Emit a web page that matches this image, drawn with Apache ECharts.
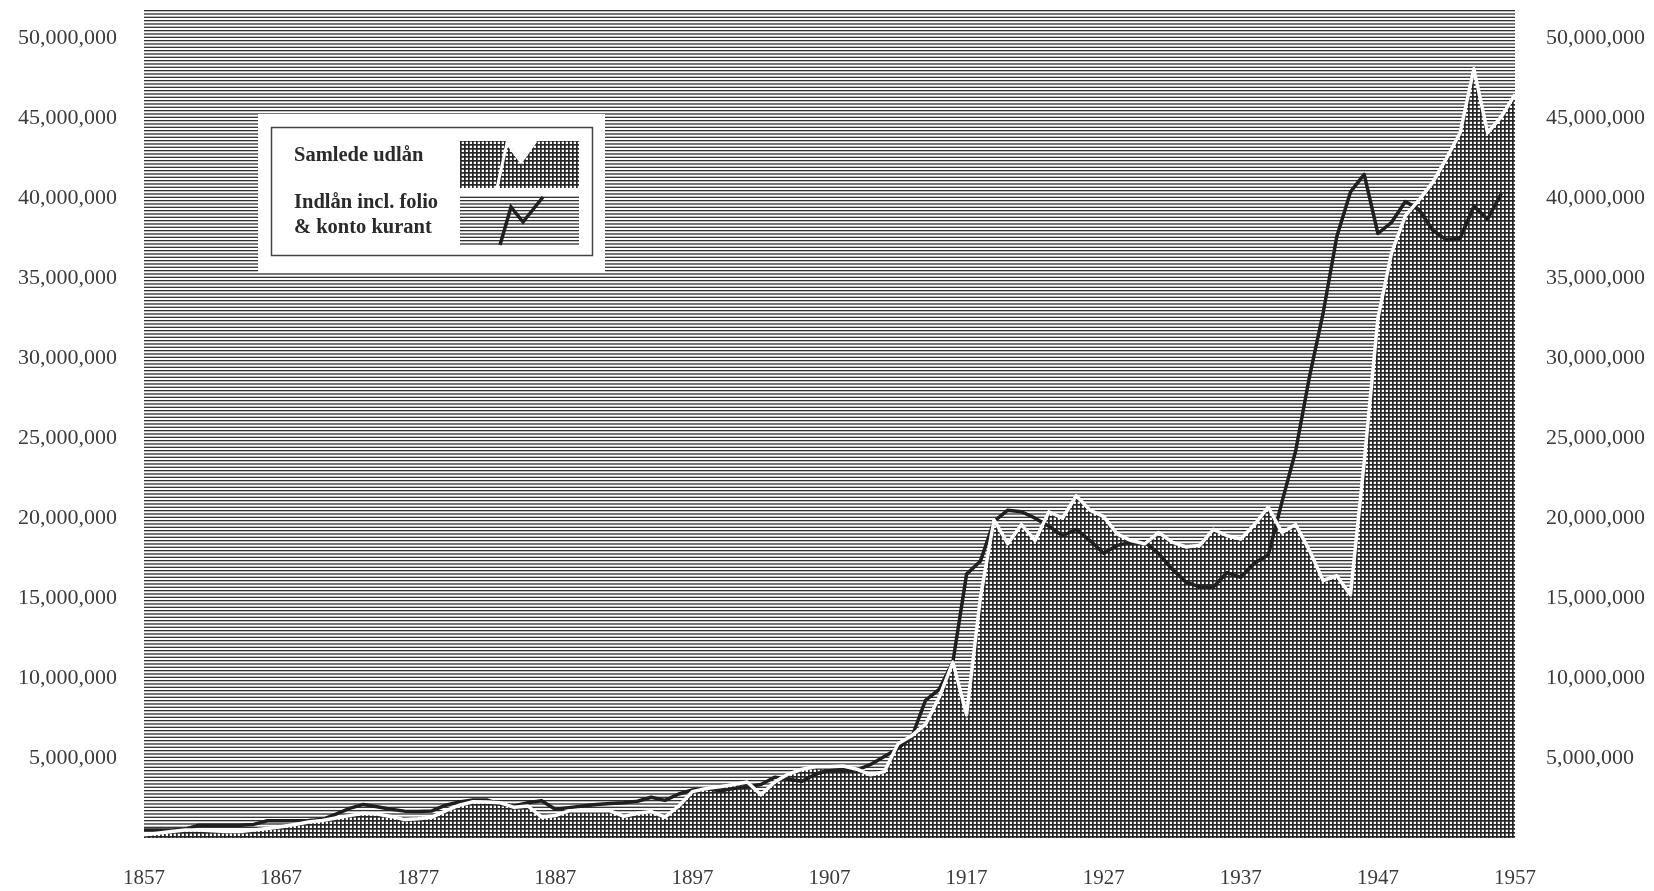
<!DOCTYPE html>
<html>
<head>
<meta charset="utf-8">
<script src="https://cdn.jsdelivr.net/npm/echarts@6/dist/echarts.min.js"></script>
<style>
html,body{margin:0;padding:0;background:#fff;}
#c{width:1654px;height:891px;}
</style>
</head>
<body>
<div id="c"></div>
<script>
// Years 1857..1957 (category axis)
const years = Array.from({length: 101}, (_, i) => String(1857 + i));

// Samlede udlån (total loans), millions of kroner, 1857..1957
const loans = [
  0.2, 0.3, 0.4, 0.5, 0.5, 0.45, 0.4, 0.4, 0.5, 0.6,
  0.7, 0.85, 1.0, 1.1, 1.25, 1.4, 1.55, 1.5, 1.35, 1.15,
  1.2, 1.3, 1.7, 2.05, 2.27, 2.25, 2.2, 1.92, 2.0, 1.3,
  1.4, 1.7, 1.72, 1.71, 1.7, 1.35, 1.55, 1.65, 1.3, 2.0,
  2.9, 3.1, 3.2, 3.35, 3.5, 2.7, 3.5, 4.0, 4.3, 4.45,
  4.45, 4.5, 4.3, 3.95, 4.15, 5.9, 6.4, 7.1, 8.8, 11.0,
  7.7, 15.0, 19.9, 18.4, 19.6, 18.6, 20.4, 20.0, 21.4, 20.5,
  20.1, 19.0, 18.6, 18.4, 19.1, 18.5, 18.2, 18.3, 19.3, 18.9,
  18.7, 19.6, 20.7, 19.1, 19.6, 18.0, 16.1, 16.4, 15.2, 23.5,
  32.5, 36.6, 38.9, 39.9, 41.0, 42.5, 44.1, 48.1, 44.1, 45.1,
  46.5
];

// Indlån incl. folio & konto kurant (deposits), millions of kroner, 1857..1956
const deposits = [
  0.5, 0.5, 0.5, 0.55, 0.8, 0.8, 0.8, 0.8, 0.85, 1.08,
  1.08, 1.08, 1.1, 1.15, 1.5, 1.85, 2.1, 1.95, 1.8, 1.68,
  1.66, 1.69, 2.05, 2.25, 2.38, 2.38, 2.1, 2.0, 2.2, 2.33,
  1.8, 1.9, 2.0, 2.1, 2.15, 2.2, 2.3, 2.55, 2.35, 2.75,
  3.0, 3.1, 2.96, 3.1, 3.2, 3.35, 3.8, 3.67, 3.55, 4.0,
  4.25, 4.2, 4.25, 4.6, 5.1, 5.6, 6.3, 8.6, 9.3, 11.0,
  16.5, 17.3, 19.8, 20.5, 20.4, 20.0, 19.5, 18.9, 19.3, 18.6,
  17.8, 18.3, 18.5, 18.5, 17.8, 16.8, 16.0, 15.7, 15.7, 16.6,
  16.3, 17.2, 17.7, 21.0, 24.2, 28.8, 32.8, 37.6, 40.4, 41.5,
  37.8, 38.5, 39.8, 39.3, 38.0, 37.4, 37.5, 39.5, 38.7, 40.3,
  null
];

const loansName = 'Samlede udlån';
const depositsName = 'Indlån incl. folio & konto kurant';
const legendLines = ['Samlede udlån', 'Indlån incl. folio', '& konto kurant'];

function fmt(v) {
  return String(Math.round(v * 1000000)).replace(/\B(?=(\d{3})+(?!\d))/g, ',');
}

function hatchCanvas() {
  const c = document.createElement('canvas');
  c.width = 10; c.height = 10;
  const g = c.getContext('2d');
  g.fillStyle = '#ffffff'; g.fillRect(0, 0, 10, 10);
  g.fillStyle = '#303030';
  for (let i = 0; i < 3; i++) g.fillRect(0, i * 10 / 3, 10, 1.3);
  return c;
}
function gridCanvas() {
  const c = document.createElement('canvas');
  c.width = 4; c.height = 4;
  const g = c.getContext('2d');
  g.fillStyle = '#ffffff'; g.fillRect(0, 0, 4, 4);
  g.fillStyle = '#262626';
  g.fillRect(0, 0, 4, 1.7);
  g.fillRect(0, 0, 1.7, 4);
  return c;
}
const hatchPat = { image: hatchCanvas(), repeat: 'repeat' };
const gridPat = { image: gridCanvas(), repeat: 'repeat' };

const labelFont = '"Liberation Serif", "DejaVu Serif", serif';
const legendFont = 'bold 20.5px "Liberation Serif", "DejaVu Serif", serif';

const yAxisBase = {
  type: 'value', min: 0, max: 51.9, interval: 5,
  axisLine: { show: false }, axisTick: { show: false }, splitLine: { show: false },
  axisLabel: {
    fontFamily: labelFont, fontSize: 22, color: '#3a3a3a',
    formatter: v => (v > 0 && v % 5 === 0) ? fmt(v) : ''
  }
};

const chart = echarts.init(document.getElementById('c'));
chart.setOption({
  animation: false,
  backgroundColor: '#ffffff',
  grid: {
    left: 144, right: 139, top: 8, bottom: 53,
    show: true, backgroundColor: hatchPat, borderWidth: 0
  },
  xAxis: {
    type: 'category', data: years, boundaryGap: false,
    axisLine: { show: false }, axisTick: { show: false }, splitLine: { show: false },
    axisLabel: { interval: 9, fontFamily: labelFont, fontSize: 21, color: '#3a3a3a', margin: 30 }
  },
  yAxis: [
    Object.assign({}, yAxisBase, { position: 'left', axisLabel: Object.assign({}, yAxisBase.axisLabel, { margin: 27 }) }),
    Object.assign({}, yAxisBase, { position: 'right', axisLabel: Object.assign({}, yAxisBase.axisLabel, { margin: 31 }) })
  ],
  series: [
    {
      name: loansName + ' (area)', type: 'line', data: loans, symbol: 'none', silent: true,
      lineStyle: { width: 0, opacity: 0 },
      areaStyle: { color: gridPat, opacity: 1 }, z: 2
    },
    {
      name: depositsName, type: 'line', data: deposits, symbol: 'none', silent: true,
      lineStyle: { color: '#1f1f1f', width: 3.5, join: 'round' }, z: 3
    },
    {
      name: loansName, type: 'line', data: loans, symbol: 'none', silent: true,
      lineStyle: { color: '#ffffff', width: 3.5, join: 'round' }, z: 4
    }
  ],
  graphic: [
    { type: 'rect', z: 100, shape: { x: 258, y: 114, width: 347, height: 158 }, style: { fill: '#ffffff' } },
    { type: 'rect', z: 101, shape: { x: 271.5, y: 127.5, width: 321, height: 128 }, style: { fill: 'none', stroke: '#444', lineWidth: 1.5 } },
    { type: 'text', z: 102, x: 294, y: 156, style: { text: legendLines[0], font: legendFont, fill: '#2a2a2a', verticalAlign: 'middle' } },
    { type: 'text', z: 102, x: 294, y: 203, style: { text: legendLines[1], font: legendFont, fill: '#2a2a2a', verticalAlign: 'middle' } },
    { type: 'text', z: 102, x: 294, y: 228, style: { text: legendLines[2], font: legendFont, fill: '#2a2a2a', verticalAlign: 'middle' } },
    { type: 'polygon', z: 102, shape: { points: [[460, 141], [507, 141], [521, 160], [535, 141], [579, 141], [579, 188], [460, 188]] }, style: { fill: gridPat } },
    { type: 'polyline', z: 103, shape: { points: [[497, 188], [507, 143], [521, 162], [536, 141]] }, style: { fill: 'none', stroke: '#ffffff', lineWidth: 3 } },
    { type: 'rect', z: 102, shape: { x: 460, y: 196, width: 119, height: 49 }, style: { fill: hatchPat } },
    { type: 'polyline', z: 103, shape: { points: [[500, 245], [511, 207], [523, 222], [543, 197]] }, style: { fill: 'none', stroke: '#1f1f1f', lineWidth: 3.5 } }
  ]
});
</script>
</body>
</html>
